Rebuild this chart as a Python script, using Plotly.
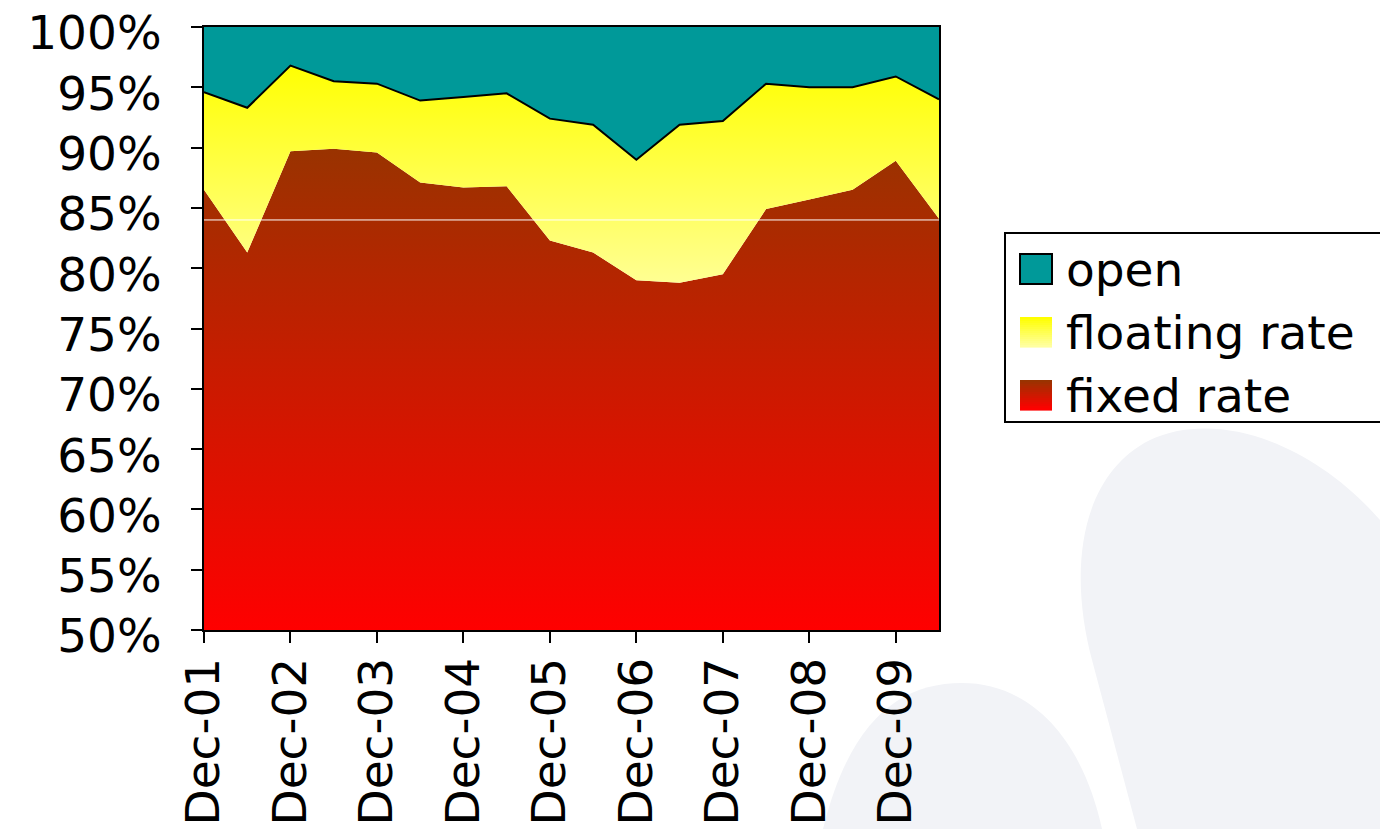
import plotly.graph_objects as go

# ---- data (percent shares) ----
periods = ["Dec-01", "Jun-02", "Dec-02", "Jun-03", "Dec-03", "Jun-04", "Dec-04", "Jun-05",
           "Dec-05", "Jun-06", "Dec-06", "Jun-07", "Dec-07", "Jun-08", "Dec-08", "Jun-09",
           "Dec-09", "Jun-10"]
fixed_rate = [86.5, 81.3, 89.7, 89.9, 89.6, 87.1, 86.7, 86.8, 82.3, 81.3, 79.0, 78.8,
              79.5, 84.9, 85.7, 86.5, 88.9, 84.1]
floating_rate = [8.1, 12.0, 7.1, 5.6, 5.7, 6.8, 7.5, 7.7, 10.1, 10.6, 10.0, 13.1,
                 12.7, 10.4, 9.3, 8.5, 7.0, 9.9]
open_share = [5.4, 6.7, 3.2, 4.5, 4.7, 6.1, 5.8, 5.5, 7.6, 8.1, 11.0, 8.1,
              7.8, 4.7, 5.0, 5.0, 4.1, 6.0]
tick_labels = ["Dec-01", "Dec-02", "Dec-03", "Dec-04", "Dec-05", "Dec-06", "Dec-07",
               "Dec-08", "Dec-09"]
y_ticks = [50, 55, 60, 65, 70, 75, 80, 85, 90, 95, 100]
legend_names = ["open", "floating rate", "fixed rate"]

FONT = "DejaVu Sans"
FS = 47
W, H = 1380, 829
L, R, T, B = 204, 939, 27, 630  # plot area in pixels

TEAL = "#009999"

fig = go.Figure()
fig.add_trace(go.Scatter(
    x=periods, y=fixed_rate, name="fixed rate", stackgroup="s", mode="lines",
    line=dict(width=0, color="#993300"),
    fillgradient=dict(type="vertical", start=50, stop=90,
                      colorscale=[[0, "#ff0000"], [1, "#993300"]]),
    showlegend=False,
))
fig.add_trace(go.Scatter(
    x=periods, y=floating_rate, name="floating rate", stackgroup="s", mode="lines",
    line=dict(width=2, color="black"),
    fillgradient=dict(type="vertical", start=78, stop=97,
                      colorscale=[[0, "#ffff99"], [1, "#ffff00"]]),
    showlegend=False,
))
fig.add_trace(go.Scatter(
    x=periods, y=open_share, name="open", stackgroup="s", mode="lines",
    line=dict(width=0, color="black"), fillcolor=TEAL,
    showlegend=False,
))


def px_x(x):
    return (x - L) / (R - L)


def px_y(y):
    return (B - y) / (B - T)


def pp(x, y):
    return f"{px_x(x):.4f},{px_y(y):.4f}"


shapes = []
# background watermark
hump = (f"M {pp(823, 829)} C {pp(850, 720)} {pp(900, 683)} {pp(962, 683)} "
        f"C {pp(1025, 683)} {pp(1080, 730)} {pp(1102, 829)} Z")
drop = (f"M {pp(1137, 829)} L {pp(1092, 660)} C {pp(1068, 570)} {pp(1080, 475)} {pp(1150, 440)} "
        f"C {pp(1215, 410)} {pp(1310, 440)} {pp(1380, 520)} L {pp(1380, 829)} Z")
for p in (hump, drop):
    shapes.append(dict(type="path", path=p, xref="paper", yref="paper",
                       fillcolor="#f2f3f7", line=dict(width=0), layer="below"))
# thin white line across the plot
shapes.append(dict(type="line", xref="paper", yref="y", x0=0, x1=1, y0=84, y1=84,
                   line=dict(color="white", width=1), layer="above"))

# legend box
shapes.append(dict(type="rect", xref="paper", yref="paper",
                   x0=px_x(1005), x1=px_x(1395), y0=px_y(422), y1=px_y(233),
                   fillcolor="white", line=dict(color="black", width=2), layer="above"))


def rgb_mix(c0, c1, t):
    return "rgb(%d,%d,%d)" % tuple(round(a + (b - a) * t) for a, b in zip(c0, c1))


sw_x0, sw_x1 = 1020, 1052
centers = [269, 332, 395]
sw_h = 30
# open swatch
shapes.append(dict(type="rect", xref="paper", yref="paper",
                   x0=px_x(sw_x0), x1=px_x(sw_x1),
                   y0=px_y(centers[0] + sw_h / 2), y1=px_y(centers[0] - sw_h / 2),
                   fillcolor=TEAL, line=dict(color="black", width=2), layer="above"))
# gradient swatches (top colour -> bottom colour)
grads = [((255, 255, 0), (255, 255, 160)), ((153, 51, 0), (255, 0, 0))]
n = 15
for (ctop, cbot), cy in zip(grads, centers[1:]):
    top = cy - sw_h / 2
    for i in range(n):
        ya = top + sw_h * i / n
        yb = top + sw_h * (i + 1) / n + 0.6
        shapes.append(dict(type="rect", xref="paper", yref="paper",
                           x0=px_x(sw_x0), x1=px_x(sw_x1), y0=px_y(yb), y1=px_y(ya),
                           fillcolor=rgb_mix(ctop, cbot, i / (n - 1)),
                           line=dict(width=0), layer="above"))

annotations = [
    dict(text=name, xref="paper", yref="paper", x=px_x(1064), y=px_y(cy),
         xanchor="left", yanchor="middle", showarrow=False,
         font=dict(family=FONT, size=FS, color="black"))
    for name, cy in zip(legend_names, centers)
]

fig.update_layout(
    width=W, height=H,
    margin=dict(l=L, r=W - R, t=T, b=H - B, autoexpand=False),
    paper_bgcolor="white", plot_bgcolor="white",
    font=dict(family=FONT, size=FS, color="black"),
    shapes=shapes,
    annotations=annotations,
    showlegend=False,
    xaxis=dict(type="category", range=[0, len(periods) - 1],
               tickmode="array", tickvals=tick_labels, ticktext=tick_labels,
               tickangle=-90, ticks="outside", ticklen=11, tickwidth=1.5, tickcolor="black",
               ticklabelstandoff=-4, ticklabeloverflow="allow",
               showline=True, linecolor="black", linewidth=2, mirror=True,
               showgrid=False, zeroline=False,
               tickfont=dict(family=FONT, size=FS)),
    yaxis=dict(range=[50, 100], tickmode="array", tickvals=y_ticks,
               ticktext=[f"{v}%" for v in y_ticks],
               ticks="outside", ticklen=11, tickwidth=1.5, tickcolor="black",
               ticklabelstandoff=20, ticklabelshift=6, ticklabeloverflow="allow",
               showline=True, linecolor="black", linewidth=2, mirror=True,
               showgrid=False, zeroline=False,
               tickfont=dict(family=FONT, size=FS)),
)

fig.write_html("out.html", config={"displayModeBar": False},
               post_script="document.body.style.margin='0';")
